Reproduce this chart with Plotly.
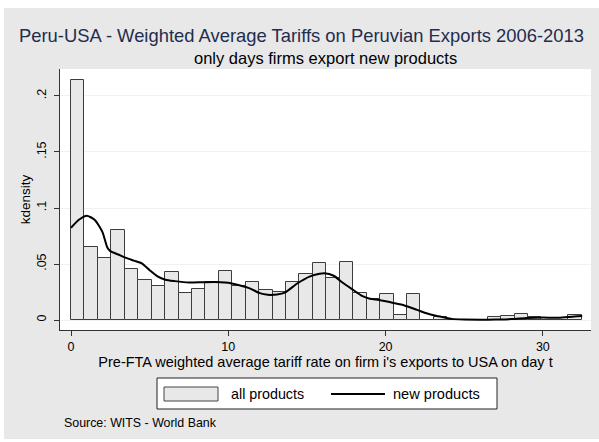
import plotly.graph_objects as go

# Histogram of pre-FTA weighted average tariff rates (density per bin)
bin_start = 0.0
bin_width = 0.8545
hist_density = [
    0.214, 0.0655, 0.0557, 0.0804, 0.0452, 0.0354, 0.0304, 0.0432, 0.0244, 0.0274,
    0.0336, 0.0437, 0.0304, 0.0336, 0.0268, 0.0253, 0.0336, 0.0408, 0.0509, 0.0372,
    0.0515, 0.0241, 0.0187, 0.0235, 0.0048, 0.0234, 0.0, 0.0025, 0.0, 0.0,
    0.0, 0.0025, 0.0035, 0.0054, 0.0025, 0.0, 0.0, 0.0042,
]

# Kernel density estimate for new products
kde_x = [0.0, 0.5, 1.0, 1.5, 2.0, 2.3, 2.5, 3.0, 3.5, 4.0, 4.5, 5.0, 5.5, 6.0, 6.6,
         7.5, 8.5, 9.5, 10.0, 10.7, 11.4, 12.0, 12.5, 13.1, 13.6, 14.4, 15.2, 15.8,
         16.1, 16.7, 17.3, 17.9, 18.5, 19.0, 19.6, 20.5, 21.2, 22.0, 22.6, 23.2, 23.7,
         24.2, 25.0, 26.0, 27.0, 28.0, 29.0, 30.0, 31.0, 32.0, 32.5]
kde_y = [0.0824, 0.0895, 0.0931, 0.0895, 0.0785, 0.065, 0.0615, 0.0585, 0.0555, 0.053,
         0.0505, 0.0445, 0.039, 0.036, 0.0347, 0.0334, 0.0338, 0.0338, 0.0332, 0.031,
         0.028, 0.024, 0.0225, 0.0228, 0.0245, 0.0328, 0.039, 0.0412, 0.0417, 0.0395,
         0.033, 0.0272, 0.0215, 0.019, 0.0178, 0.0152, 0.013, 0.009, 0.006, 0.0038,
         0.0024, 0.001, 0.0004, 0.0003, 0.0004, 0.0008, 0.0018, 0.0022, 0.002, 0.0032,
         0.0035]

x_ticks = [0, 10, 20, 30]
y_ticks = [0, 0.05, 0.1, 0.15, 0.2]
y_tick_labels = ["0", ".05", ".1", ".15", ".2"]

title_text = "Peru-USA - Weighted Average Tariffs on Peruvian Exports 2006-2013"
subtitle_text = "only days firms export new products"
x_title = "Pre-FTA weighted average tariff rate on firm i's exports to USA on day t"
y_title = "kdensity"
legend_labels = ["all products", "new products"]
note_text = "Source: WITS - World Bank"

FONT = "Arial, 'Liberation Sans', sans-serif"
W, H = 599, 442
ML, MR, MT, MB = 60, 8, 69, 112
PW, PH = W - ML - MR, H - MT - MB


def px(x):
    return (x - ML) / PW


def py(y):
    return (H - MB - y) / PH


centers = [bin_start + bin_width * (i + 0.5) for i in range(len(hist_density))]

fig = go.Figure()
fig.add_trace(go.Bar(
    x=centers, y=hist_density, width=bin_width,
    marker=dict(color="#e8e8e8", line=dict(color="#3c3c3c", width=1)),
    showlegend=False, name=legend_labels[0],
))
fig.add_trace(go.Scatter(
    x=kde_x, y=kde_y, mode="lines",
    line=dict(color="black", width=2, shape="spline", smoothing=0.6),
    showlegend=False, name=legend_labels[1],
))

shapes = [
    # grey page with a thin white edge
    dict(type="rect", xref="paper", yref="paper", layer="below",
         x0=px(4), x1=px(W + 5), y0=py(439), y1=py(8),
         fillcolor="#e8e8e8", line=dict(width=0)),
    # white plotting region
    dict(type="rect", xref="paper", yref="paper", layer="below",
         x0=0, x1=1, y0=0, y1=1, fillcolor="white", line=dict(width=0)),
    # legend frame
    dict(type="rect", xref="paper", yref="paper",
         x0=px(157), x1=px(497), y0=py(409), y1=py(378),
         fillcolor="white", line=dict(color="#222222", width=1)),
    # legend swatch for the histogram
    dict(type="rect", xref="paper", yref="paper",
         x0=px(164), x1=px(218), y0=py(401), y1=py(387),
         fillcolor="#e8e8e8", line=dict(color="#444444", width=1)),
    # legend swatch for the density line
    dict(type="line", xref="paper", yref="paper",
         x0=px(331), x1=px(385), y0=py(394), y1=py(394),
         line=dict(color="black", width=2)),
]

annotations = [
    dict(text=title_text, xref="paper", yref="paper", x=px(301.5), y=py(35),
         xanchor="center", yanchor="middle", showarrow=False,
         font=dict(family=FONT, size=18.4, color="#1f2d4f")),
    dict(text=subtitle_text, xref="paper", yref="paper", x=px(325), y=py(58),
         xanchor="center", yanchor="middle", showarrow=False,
         font=dict(family=FONT, size=16.5, color="black")),
    dict(text=legend_labels[0], xref="paper", yref="paper", x=px(229), y=py(394),
         xanchor="left", yanchor="middle", showarrow=False,
         font=dict(family=FONT, size=14.3, color="black")),
    dict(text=legend_labels[1], xref="paper", yref="paper", x=px(391), y=py(394),
         xanchor="left", yanchor="middle", showarrow=False,
         font=dict(family=FONT, size=14.6, color="black")),
    dict(text=note_text, xref="paper", yref="paper", x=px(62), y=py(423),
         xanchor="left", yanchor="middle", showarrow=False,
         font=dict(family=FONT, size=12.4, color="black")),
]

fig.update_layout(
    width=W, height=H, autosize=False,
    margin=dict(l=ML, r=MR, t=MT, b=MB, pad=0),
    paper_bgcolor="white", plot_bgcolor="rgba(0,0,0,0)",
    bargap=0, font=dict(family=FONT, size=12, color="black"),
    shapes=shapes, annotations=annotations,
)
fig.update_xaxes(
    range=[-0.70, 33.06], tickvals=x_ticks, showgrid=False, zeroline=False,
    showline=True, linecolor="#333333", linewidth=1,
    ticks="outside", ticklen=5, tickcolor="#333333",
    tickfont=dict(family=FONT, size=12.5, color="black"),
    title=dict(text=x_title, font=dict(family=FONT, size=14.5, color="black"), standoff=3),
)
fig.update_yaxes(
    range=[-0.00893, 0.2241], tickvals=y_ticks, ticktext=y_tick_labels, tickangle=-90,
    showgrid=True, gridcolor="#eef2f2", gridwidth=1, zeroline=False,
    showline=True, linecolor="#333333", linewidth=1,
    ticks="outside", ticklen=5, tickcolor="#333333", ticklabelstandoff=3,
    tickfont=dict(family=FONT, size=12.5, color="black"),
    title=dict(text=y_title, font=dict(family=FONT, size=13.5, color="black"), standoff=1),
)

fig.write_html("out.html")
